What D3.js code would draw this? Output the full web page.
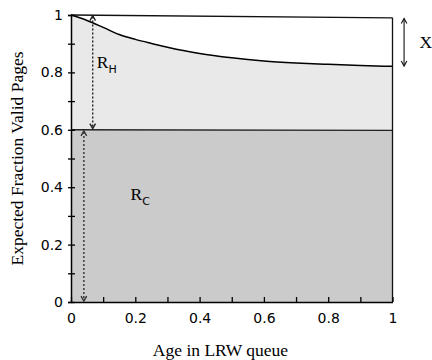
<!DOCTYPE html>
<html>
<head>
<meta charset="utf-8">
<script src="https://cdn.jsdelivr.net/npm/d3@7"></script>
<style>
  html, body { margin: 0; padding: 0; background: #fff; }
  svg { display: block; }
</style>
</head>
<body>
<svg id="chart" width="432" height="360"></svg>
<script>
// ---- data ----
const ageValues   = [0, 0.05, 0.1, 0.15, 0.2, 0.25, 0.3, 0.4, 0.5, 0.6, 0.7, 0.8, 0.9, 1.0];
const hotValues   = [1.0, 0.981, 0.957, 0.932, 0.915, 0.901, 0.888, 0.866, 0.851, 0.840, 0.833, 0.828, 0.824, 0.821];
const topAges     = [0, 1];
const topValues   = [1.0, 0.99];
const coldAges    = [0, 1];
const coldValues  = [0.6, 0.598];
const xTickValues = [0, 0.1, 0.2, 0.3, 0.4, 0.5, 0.6, 0.7, 0.8, 0.9, 1.0];
const yTickValues = [0, 0.1, 0.2, 0.3, 0.4, 0.5, 0.6, 0.7, 0.8, 0.9, 1.0];
const xTickLabels = ["0", "", "0.2", "", "0.4", "", "0.6", "", "0.8", "", "1"];
const yTickLabels = ["0", "", "0.2", "", "0.4", "", "0.6", "", "0.8", "", "1"];

const svg = d3.select("#chart");
const x = d3.scaleLinear().domain([0, 1]).range([71, 392.5]);
const y = d3.scaleLinear().domain([0, 1]).range([302, 15]);

const hotData  = ageValues.map((a, i) => ({a, v: hotValues[i]}));
const topData  = topAges.map((a, i) => ({a, v: topValues[i]}));
const coldData = coldAges.map((a, i) => ({a, v: coldValues[i]}));
const coldAt = a => coldValues[0] + (coldValues[1] - coldValues[0]) * a;

// ---- fills ----
svg.append("path")
  .datum(coldData)
  .attr("d", d3.area().x(d => x(d.a)).y0(y(0)).y1(d => y(d.v)))
  .attr("fill", "#cbcbcb");

svg.append("path")
  .datum(hotData)
  .attr("d", d3.area().curve(d3.curveMonotoneX).x(d => x(d.a)).y0(d => y(coldAt(d.a))).y1(d => y(d.v)))
  .attr("fill", "#e9e9e9");

// ---- lines ----
const lineGen = d3.line().x(d => x(d.a)).y(d => y(d.v));
svg.append("path").datum(topData).attr("d", lineGen)
  .attr("fill", "none").attr("stroke", "#111").attr("stroke-width", 1.3);
svg.append("path").datum(coldData).attr("d", lineGen)
  .attr("fill", "none").attr("stroke", "#222").attr("stroke-width", 1.4);
svg.append("path").datum(hotData).attr("d", d3.line().curve(d3.curveMonotoneX).x(d => x(d.a)).y(d => y(d.v)))
  .attr("fill", "none").attr("stroke", "#000").attr("stroke-width", 1.5);

// right edge
svg.append("line")
  .attr("x1", x(1)).attr("x2", x(1))
  .attr("y1", y(topValues[1])).attr("y2", y(0))
  .attr("stroke", "#111").attr("stroke-width", 1.3);

// ---- axes ----
const yAxis = d3.axisLeft(y).tickValues(yTickValues)
  .tickFormat((d, i) => yTickLabels[i]).tickSize(3).tickPadding(5);
const gy = svg.append("g").attr("transform", `translate(${x(0)},0)`).call(yAxis);
gy.select(".domain").attr("stroke", "#000").attr("stroke-width", 1.5);
gy.selectAll(".tick line").attr("x1", 4).attr("x2", -3).attr("stroke", "#000").attr("stroke-width", 1.3);
gy.selectAll(".tick text")
  .attr("font-family", "'DejaVu Sans', sans-serif").attr("font-size", 14).attr("fill", "#000");

const xAxis = d3.axisBottom(x).tickValues(xTickValues)
  .tickFormat((d, i) => xTickLabels[i]).tickSize(0).tickPadding(11);
const gx = svg.append("g").attr("transform", `translate(0,${y(0)})`).call(xAxis);
gx.select(".domain").attr("stroke", "#000").attr("stroke-width", 1.5);
gx.selectAll(".tick line").attr("y1", 0).attr("y2", -5).attr("stroke", "#000").attr("stroke-width", 1.3);
gx.selectAll(".tick text")
  .attr("font-family", "'DejaVu Sans', sans-serif").attr("font-size", 14).attr("fill", "#000");

// ---- axis titles ----
const serif = "'Liberation Serif', 'Times New Roman', serif";
const sans = "'DejaVu Sans', sans-serif";

svg.append("text")
  .attr("x", 220.5).attr("y", 356)
  .attr("text-anchor", "middle")
  .attr("font-family", serif)
  .attr("font-size", 17.5)
  .text("Age in LRW queue");

svg.append("text")
  .attr("transform", "translate(23,158.5) rotate(-90)")
  .attr("text-anchor", "middle")
  .attr("font-family", serif)
  .attr("font-size", 17.5)
  .text("Expected Fraction Valid Pages");

// ---- annotation arrows ----
function arrow(px, py1, py2, dotted, color) {
  const g = svg.append("g").attr("stroke", color).attr("fill", "none").attr("stroke-width", dotted ? 1.4 : 1.1);
  g.append("line").attr("x1", px).attr("x2", px).attr("y1", py1 + 1).attr("y2", py2 - 1)
    .attr("stroke-dasharray", dotted ? "2,2" : null);
  const hw = 2.8, hh = 5;
  g.append("path").attr("d", `M${px - hw},${py1 + hh} L${px},${py1} L${px + hw},${py1 + hh}`);
  g.append("path").attr("d", `M${px - hw},${py2 - hh} L${px},${py2} L${px + hw},${py2 - hh}`);
}
arrow(x(0.0675), y(0.998), y(0.604), true, "#222");
arrow(x(0.04), y(0.596), y(0.003), true, "#333");
arrow(x(1.036), y(0.988), y(0.822), false, "#111");

// ---- labels ----
const rh = svg.append("text").attr("x", x(0.08)).attr("y", y(0.815))
  .attr("font-family", serif).attr("font-size", 17.5).attr("fill", "#000");
rh.append("tspan").text("R");
rh.append("tspan").attr("dy", 4.5).attr("font-family", sans).attr("font-size", 11).text("H");

const rc = svg.append("text").attr("x", x(0.185)).attr("y", y(0.357))
  .attr("font-family", serif).attr("font-size", 17.5).attr("fill", "#000");
rc.append("tspan").text("R");
rc.append("tspan").attr("dy", 5.5).attr("font-family", sans).attr("font-size", 11).text("C");

svg.append("text").attr("x", 419.5).attr("y", 48.3)
  .attr("font-family", serif).attr("font-size", 17.5).attr("fill", "#000")
  .text("X");
</script>
</body>
</html>
